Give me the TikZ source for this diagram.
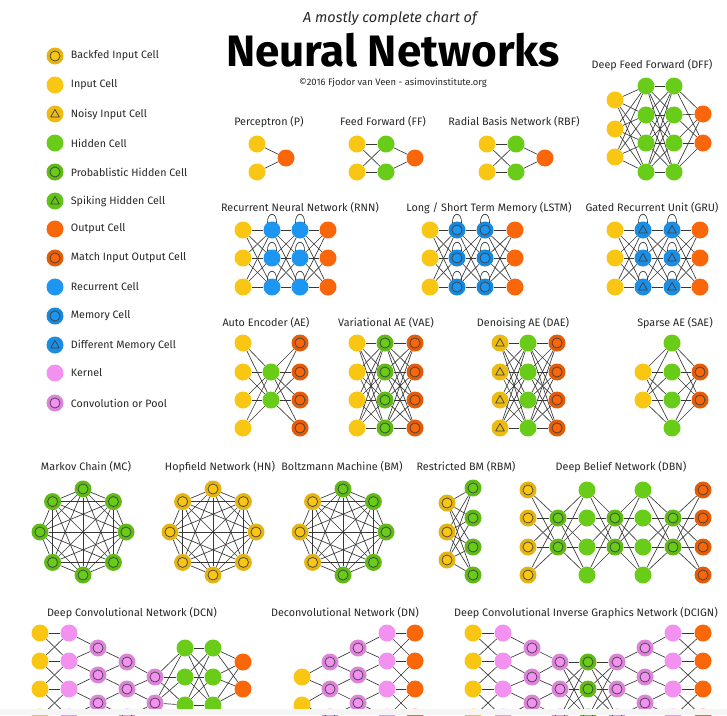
\documentclass[tikz,border=0pt]{standalone}
\usepackage{fontspec}
\setmainfont{Fira Sans}
\usetikzlibrary{positioning,backgrounds}

\definecolor{cyellow}{RGB}{250,198,20}
\definecolor{cgreen}{RGB}{104,204,24}
\definecolor{corange}{RGB}{250,102,10}
\definecolor{cblue}{RGB}{28,150,240}
\definecolor{cpink}{RGB}{243,145,240}
\definecolor{cline}{RGB}{55,55,55}
\definecolor{ctext}{RGB}{40,40,40}

\tikzset{
  cell/.style={circle, minimum size=17pt, inner sep=0pt},
  incell/.style={cell, fill=cyellow},
  hidcell/.style={cell, fill=cgreen},
  outcell/.style={cell, fill=corange},
  reccell/.style={cell, fill=cblue},
  kerncell/.style={cell, fill=cpink},
  ringcell/.style={cell, fill=#1!91!black,
    path picture={\fill[#1, draw=black!75, line width=0.7pt] (path picture bounding box.center) circle (5pt);}},
  tricell/.style={cell, fill=#1!95!black,
    path picture={\draw[black!75, line width=0.7pt, line join=round] (path picture bounding box.center) ++(0pt,4.6pt) -- ++(4.3pt,-7.6pt) -- ++(-8.6pt,0pt) -- cycle;}},
  backcell/.style={ringcell=cyellow},
  noisycell/.style={tricell=cyellow},
  probcell/.style={ringcell=cgreen},
  spikecell/.style={tricell=cgreen},
  matchcell/.style={ringcell=corange},
  memcell/.style={ringcell=cblue},
  diffcell/.style={tricell=cblue},
  convcell/.style={ringcell=cpink},
  link/.style={draw=cline, line width=0.65pt},
  netname/.style={font=\fontsize{10.8}{12}\selectfont, text=ctext},
  lbl/.style={font=\fontsize{10.7}{12}\selectfont, text=ctext, inner sep=1pt, anchor=west}
}

% one column of cells: prefix, x, style, list of y
\newcommand\layer[4]{\foreach \yy [count=\r] in {#4}{\node[#3] (#1-\r) at (#2,\yy) {};}}
% every cell of one column to every cell of the next
\newcommand\fullconn[4]{\foreach \ra in {1,...,#2}{\foreach \rb in {1,...,#4}{\draw[link] (#1-\ra) -- (#3-\rb);}}}
% only near neighbours (convolutions)
\newcommand\localconn[4]{\foreach \ya [count=\ra] in {#2}{\foreach \yb [count=\rb] in {#4}{%
  \pgfmathtruncatemacro\isnear{abs(\ya-\yb)<30}\ifnum\isnear=1 \draw[link] (#1-\ra) -- (#3-\rb);\fi}}}
% all pairs of an eight-cell ring
\newcommand\kgraph[1]{\foreach \a in {1,...,7}{\pgfmathtruncatemacro\nxt{\a+1}\foreach \b in {\nxt,...,8}{\draw[link] (#1-\a) -- (#1-\b);}}}
% recurrent loop above a cell
\newcommand\selfloop[1]{\draw[link] ([shift={(-4.5,-6)}]#1.center) .. controls +(-1,-13) and +(1,-13) .. ([shift={(4.5,-6)}]#1.center);}
\newcommand\legitem[4]{\node[#2] (leg#1) at (55,#3) {}; \node[lbl, right=6pt of leg#1] (legtext#1) {#4};}

\begin{document}
\begin{tikzpicture}[x=1pt, y=-1pt]
  \useasboundingbox (0,0) rectangle (727,715);
  \begin{scope}[on background layer]
    \fill[white] (0,0) rectangle (727,715);
  \end{scope}

  % TITLE
  \node[font=\fontsize{14.5}{16}\selectfont\itshape, text=ctext] (subtitle) at (390,19) {A mostly complete chart of};
  \node[font=\fontsize{44}{46}\selectfont\bfseries, text=black] (title) at (393,50) {Neural Networks};
  \node[font=\fontsize{9.4}{11}\selectfont, text=ctext] (credit) at (393,83) {©2016 Fjodor van Veen - asimovinstitute.org};

  % LEGEND
  \legitem{1}{backcell}{56}{Backfed Input Cell}
  \legitem{2}{incell}{85}{Input Cell}
  \legitem{3}{noisycell}{114}{Noisy Input Cell}
  \legitem{4}{hidcell}{143}{Hidden Cell}
  \legitem{5}{probcell}{172}{Probablistic Hidden Cell}
  \legitem{6}{spikecell}{201}{Spiking Hidden Cell}
  \legitem{7}{outcell}{229}{Output Cell}
  \legitem{8}{matchcell}{258}{Match Input Output Cell}
  \legitem{9}{reccell}{287}{Recurrent Cell}
  \legitem{10}{memcell}{316}{Memory Cell}
  \legitem{11}{diffcell}{345}{Different Memory Cell}
  \legitem{12}{kerncell}{373}{Kernel}
  \legitem{13}{convcell}{403}{Convolution or Pool}

  % PERCEPTRON, FF, RBF
  \node[netname] (p-name) at (269,122) {Perceptron (P)};
  \layer{p1}{257}{incell}{144,172}
  \layer{p2}{286}{outcell}{158}
  \node[netname] (ff-name) at (383,122) {Feed Forward (FF)};
  \layer{ff1}{357}{incell}{144,172}
  \layer{ff2}{386}{hidcell}{144,172}
  \layer{ff3}{415}{outcell}{158}
  \node[netname] (rbf-name) at (514,122) {Radial Basis Network (RBF)};
  \layer{rbf1}{487}{incell}{144,172}
  \layer{rbf2}{516}{hidcell}{144,172}
  \layer{rbf3}{545}{outcell}{158}

  % DEEP FEED FORWARD
  \node[netname] (dff-name) at (652,65) {Deep Feed Forward (DFF)};
  \layer{dff1}{615}{incell}{100,129,157}
  \layer{dff2}{646}{hidcell}{86,115,143,172}
  \layer{dff3}{674}{hidcell}{86,115,143,172}
  \layer{dff4}{703}{outcell}{114,143}

  % RNN, LSTM, GRU
  \node[netname] (rnn-name) at (300,208) {Recurrent Neural Network (RNN)};
  \layer{rnn1}{243}{incell}{230,258,287}
  \layer{rnn2}{272}{reccell}{230,258,287}
  \layer{rnn3}{300}{reccell}{230,258,287}
  \layer{rnn4}{328}{outcell}{230,258,287}
  \node[netname] (lstm-name) at (489,208) {Long / Short Term Memory (LSTM)};
  \layer{lstm1}{430}{incell}{230,258,287}
  \layer{lstm2}{457}{memcell}{230,258,287}
  \layer{lstm3}{485}{memcell}{230,258,287}
  \layer{lstm4}{515}{outcell}{230,258,287}
  \node[netname] (gru-name) at (652,208) {Gated Recurrent Unit (GRU)};
  \layer{gru1}{615}{incell}{230,258,287}
  \layer{gru2}{643}{diffcell}{230,258,287}
  \layer{gru3}{672}{diffcell}{230,258,287}
  \layer{gru4}{700}{outcell}{230,258,287}

  % AUTO ENCODERS
  \node[netname] (ae-name) at (266,323) {Auto Encoder (AE)};
  \layer{ae1}{243}{incell}{343,372,400,428}
  \layer{ae2}{271}{hidcell}{372,400}
  \layer{ae3}{300}{matchcell}{343,372,400,428}
  \node[netname] (vae-name) at (386,323) {Variational AE (VAE)};
  \layer{vae1}{357}{incell}{343,372,400,428}
  \layer{vae2}{385}{probcell}{343,372,400,428}
  \layer{vae3}{415}{matchcell}{343,372,400,428}
  \node[netname] (dae-name) at (523,323) {Denoising AE (DAE)};
  \layer{dae1}{500}{noisycell}{343,372,400,428}
  \layer{dae2}{528}{hidcell}{343,372,400,428}
  \layer{dae3}{557}{matchcell}{343,372,400,428}
  \node[netname] (sae-name) at (675,323) {Sparse AE (SAE)};
  \layer{sae1}{643}{incell}{372,400}
  \layer{sae2}{672}{hidcell}{343,372,400,428}
  \layer{sae3}{700}{matchcell}{372,400}

  % MC, HN, BM
  \node[netname] (mc-name) at (86,467) {Markov Chain (MC)};
  \node[netname] (hn-name) at (220,467) {Hopfield Network (HN)};
  \node[netname] (bm-name) at (342,467) {Boltzmann Machine (BM)};
  \foreach \k in {1,...,8}{
    \node[probcell] (mc-\k) at ([shift={({90+45*(\k-1)}:43)}]83,532) {};
    \node[backcell] (hn-\k) at ([shift={({90+45*(\k-1)}:43)}]213,532) {};
  }
  \foreach \k in {1,5,6,7,8}
    \node[probcell] (bm-\k) at ([shift={({90+45*(\k-1)}:43)}]343,532) {};
  \foreach \k in {2,3,4}
    \node[backcell] (bm-\k) at ([shift={({90+45*(\k-1)}:43)}]343,532) {};

  % RBM, DBN
  \node[netname] (rbm-name) at (466,467) {Restricted BM (RBM)};
  \layer{rbm1}{447}{backcell}{503,532,560}
  \layer{rbm2}{473}{probcell}{488,518,547,575}
  \node[netname] (dbn-name) at (621,467) {Deep Belief Network (DBN)};
  \layer{dbn1}{528}{backcell}{490,518,547,575}
  \layer{dbn2}{558}{probcell}{518,547}
  \layer{dbn3}{587}{hidcell}{490,518,547,575}
  \layer{dbn4}{615}{probcell}{518,547}
  \layer{dbn5}{643}{hidcell}{490,518,547,575}
  \layer{dbn6}{673}{probcell}{518,547}
  \layer{dbn7}{703}{matchcell}{490,518,547,575}

  % DCN, DN, DCIGN (cut off at the bottom)
  \node[netname] (dcn-name) at (132,613) {Deep Convolutional Network (DCN)};
  \layer{dcn1}{40}{incell}{633,661,689,717}
  \layer{dcn2}{69}{kerncell}{633,661,689,717}
  \layer{dcn3}{98}{convcell}{648,675,703}
  \layer{dcn4}{127}{convcell}{662,689,717}
  \layer{dcn5}{155}{convcell}{677,703}
  \layer{dcn6}{185}{hidcell}{648,677,705}
  \layer{dcn7}{213}{hidcell}{648,677,705}
  \layer{dcn8}{243}{outcell}{662,689}
  \node[netname] (dn-name) at (345,613) {Deconvolutional Network (DN)};
  \layer{dn1}{302}{incell}{677,705}
  \layer{dn2}{330}{convcell}{662,689,717}
  \layer{dn3}{358}{convcell}{648,675,703}
  \layer{dn4}{387}{kerncell}{633,661,689,717}
  \layer{dn5}{415}{outcell}{633,661,689,717}
  \node[netname] (dcign-name) at (586,613) {Deep Convolutional Inverse Graphics Network (DCIGN)};
  \layer{dg1}{473}{incell}{633,661,689,717}
  \layer{dg2}{503}{kerncell}{633,661,689,717}
  \layer{dg3}{532}{convcell}{648,677,703}
  \layer{dg4}{560}{convcell}{662,689,717}
  \layer{dg5}{588}{probcell}{662,689,717}
  \layer{dg6}{617}{convcell}{662,689,717}
  \layer{dg7}{645}{convcell}{648,677,703}
  \layer{dg8}{673}{kerncell}{633,661,689,717}
  \layer{dg9}{703}{outcell}{633,661,689,717}

  % CONNECTIONS
  \begin{scope}[on background layer]
    \fullconn{p1}{2}{p2}{1}
    \fullconn{ff1}{2}{ff2}{2} \fullconn{ff2}{2}{ff3}{1}
    \fullconn{rbf1}{2}{rbf2}{2} \fullconn{rbf2}{2}{rbf3}{1}
    \fullconn{dff1}{3}{dff2}{4} \fullconn{dff2}{4}{dff3}{4} \fullconn{dff3}{4}{dff4}{2}
    \foreach \net in {rnn,lstm,gru}{
      \fullconn{\net1}{3}{\net2}{3} \fullconn{\net2}{3}{\net3}{3} \fullconn{\net3}{3}{\net4}{3}
      \foreach \r in {1,2,3}{\selfloop{\net2-\r} \selfloop{\net3-\r}}
    }
    \fullconn{ae1}{4}{ae2}{2} \fullconn{ae2}{2}{ae3}{4}
    \fullconn{vae1}{4}{vae2}{4} \fullconn{vae2}{4}{vae3}{4}
    \fullconn{dae1}{4}{dae2}{4} \fullconn{dae2}{4}{dae3}{4}
    \fullconn{sae1}{2}{sae2}{4} \fullconn{sae2}{4}{sae3}{2}
    \kgraph{mc} \kgraph{hn} \kgraph{bm}
    \fullconn{rbm1}{3}{rbm2}{4}
    \fullconn{dbn1}{4}{dbn2}{2} \fullconn{dbn2}{2}{dbn3}{4} \fullconn{dbn3}{4}{dbn4}{2}
    \fullconn{dbn4}{2}{dbn5}{4} \fullconn{dbn5}{4}{dbn6}{2} \fullconn{dbn6}{2}{dbn7}{4}
    % convolutions only reach their neighbours
    \localconn{dcn1}{633,661,689,717}{dcn2}{633,661,689,717}
    \localconn{dcn2}{633,661,689,717}{dcn3}{648,675,703}
    \localconn{dcn3}{648,675,703}{dcn4}{662,689,717}
    \localconn{dcn4}{662,689,717}{dcn5}{677,703}
    \fullconn{dcn5}{2}{dcn6}{3} \fullconn{dcn6}{3}{dcn7}{3} \fullconn{dcn7}{3}{dcn8}{2}
    \localconn{dn1}{677,705}{dn2}{662,689,717}
    \localconn{dn2}{662,689,717}{dn3}{648,675,703}
    \localconn{dn3}{648,675,703}{dn4}{633,661,689,717}
    \localconn{dn4}{633,661,689,717}{dn5}{633,661,689,717}
    \localconn{dg1}{633,661,689,717}{dg2}{633,661,689,717}
    \localconn{dg2}{633,661,689,717}{dg3}{648,677,703}
    \localconn{dg3}{648,677,703}{dg4}{662,689,717}
    \fullconn{dg4}{3}{dg5}{3} \fullconn{dg5}{3}{dg6}{3}
    \localconn{dg6}{662,689,717}{dg7}{648,677,703}
    \localconn{dg7}{648,677,703}{dg8}{633,661,689,717}
    \localconn{dg8}{633,661,689,717}{dg9}{633,661,689,717}
  \end{scope}

  % grey strip at the bottom edge
  \fill[gray!8] (0,709) rectangle (727,715);
\end{tikzpicture}
\end{document}
